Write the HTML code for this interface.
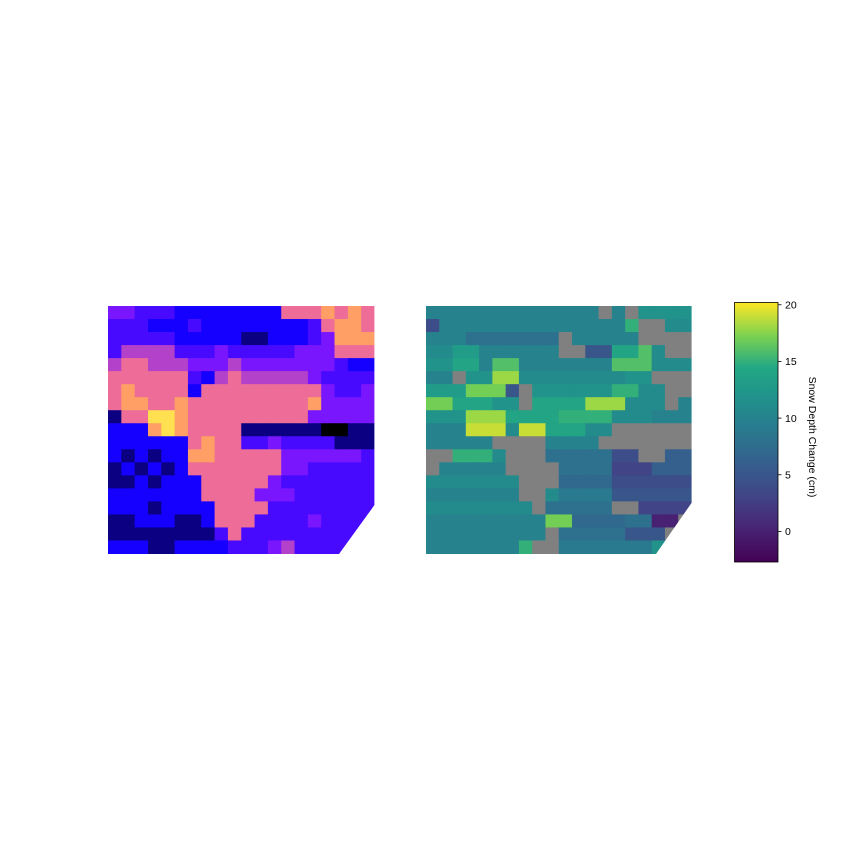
<!DOCTYPE html>
<html><head><meta charset="utf-8">
<style>
html,body{margin:0;padding:0;background:#fff;}
svg{display:block;font-family:"Liberation Sans","DejaVu Sans",sans-serif;}
</style></head>
<body>
<svg id="fig" width="864" height="864" viewBox="0 0 864 864">
  <g id="left"></g>
  <g id="right"></g>
  <rect x="374.4" y="300" width="4" height="260" fill="#fff"/>
  <rect x="691.6" y="300" width="4" height="260" fill="#fff"/>
  <polygon points="374.5,505 376,505 376,556 339,556 339,554" fill="#fff"/>
  <polygon points="691.5,503 693,503 693,556 656,556 656,554" fill="#fff"/>
  <defs>
    <linearGradient id="vir" x1="0" y1="1" x2="0" y2="0">
      <stop offset="0" stop-color="#440154"/><stop offset="0.13" stop-color="#482475"/>
      <stop offset="0.25" stop-color="#414487"/><stop offset="0.38" stop-color="#355f8d"/>
      <stop offset="0.5" stop-color="#2a788e"/><stop offset="0.63" stop-color="#21918c"/>
      <stop offset="0.75" stop-color="#22a884"/><stop offset="0.87" stop-color="#7ad151"/>
      <stop offset="1" stop-color="#fde725"/>
    </linearGradient>
  </defs>
  <g id="cbar">
    <rect x="734.5" y="302.5" width="43.5" height="259.5" fill="url(#vir)" stroke="#000" stroke-width="0.8"/>
  </g>
  <text x="0" y="0" transform="translate(809,437) rotate(90)" font-size="10.5" text-anchor="middle" fill="#000">Snow Depth Change (cm)</text>
</svg>
<script>
const leftValues = [
[4,4,3,3,3,2,2,2,2,2,2,2,2,6,6,6,7,6,7,6],
[3,3,3,2,2,2,3,2,2,2,2,2,2,2,2,3,6,7,7,6],
[3,3,3,3,3,2,2,2,2,2,1,1,2,2,2,3,4,7,7,7],
[3,5,5,5,5,3,3,3,4,3,3,3,3,3,4,4,4,6,6,6],
[5,6,6,5,5,5,4,4,4,5,4,4,4,4,4,4,4,3,2,2],
[6,6,6,6,6,6,3,2,5,6,5,5,5,5,5,4,3,3,3,3],
[6,7,6,6,6,6,2,6,6,6,6,6,6,6,6,6,4,3,3,4],
[6,7,7,6,6,7,6,6,6,6,6,6,6,6,6,7,4,4,4,4],
[1,6,6,8,8,7,6,6,6,6,6,6,6,6,6,4,4,4,4,4],
[2,2,2,7,8,7,6,6,6,6,1,1,1,1,1,1,0,0,1,1],
[2,2,2,2,2,2,6,7,6,6,3,3,4,3,3,3,3,1,1,1],
[2,1,2,1,2,2,7,7,6,6,6,6,6,4,4,4,4,4,4,3],
[1,2,1,2,1,2,6,6,6,6,6,6,6,4,4,3,3,3,3,3],
[1,1,2,1,2,2,2,6,6,6,6,6,4,3,3,3,3,3,3,3],
[2,2,2,2,2,2,2,6,6,6,6,4,4,4,3,3,3,3,3,3],
[2,2,2,1,2,2,2,2,6,6,6,6,3,3,3,3,3,3,3,3],
[1,1,2,2,2,1,1,2,6,6,6,3,3,3,3,4,3,3,3,3],
[1,1,1,1,1,1,1,1,3,6,3,3,3,3,3,3,3,3,3,3],
[2,2,2,1,1,2,2,2,2,3,3,3,4,5,3,3,3,3,3,3]
];
const N = null;
const rightValues = [
[10,10,10,10,10,10,10,10,10,10,10,10,10,N,10,N,12,12,12,12],
[4,10,10,10,10,10,10,10,10,10,10,10,10,10,10,15,N,N,11,11],
[10,10,10,8,8,8,8,8,8,8,N,10,10,10,10,10,N,N,N,N],
[11,11,13,13,10,10,10,10,10,10,N,N,5,5,14,14,16,11,N,N],
[12,12,14,14,10,16,16,10,10,10,10,10,10,10,16,16,16,11,11,11],
[10,10,N,12,12,18,18,11,11,11,11,11,11,11,11,12,12,N,N,N],
[13,13,13,17,17,17,5,N,12,12,12,12,12,12,15,15,11,11,N,N],
[17,17,14,14,14,12,12,N,14,14,14,14,18,18,18,11,11,11,N,10],
[12,12,12,18,18,18,14,14,14,14,15,15,15,15,11,11,11,10,10,10],
[10,10,10,19,19,19,11,19,19,14,14,14,11,11,N,N,N,N,N,N],
[10,10,10,10,10,N,N,N,N,10,10,10,10,N,N,N,N,N,N,N],
[N,N,15,15,15,11,N,N,N,8,8,8,8,8,4,4,N,N,6,6],
[N,10,10,10,10,10,N,N,N,N,8,8,8,8,3,3,3,6,6,6],
[11,11,11,11,11,11,11,N,N,N,7,7,7,7,4,4,4,4,4,4],
[10,10,10,10,10,10,10,N,N,11,9,9,9,9,5,5,5,5,5,5],
[11,11,11,11,11,11,11,11,N,8,8,8,8,8,N,N,3,3,3,3],
[10,10,10,10,10,10,10,10,10,17,17,7,7,7,7,8,8,0,0,N],
[10,10,10,10,10,10,10,10,10,N,8,8,8,8,8,5,5,5,N,5],
[10,10,10,10,10,10,10,15,N,N,9,9,9,9,9,9,9,12,12,12]
];
const cbarTicks = [0,5,10,15,20];

const NS='http://www.w3.org/2000/svg';
function lerpStops(stops,t){
  t=Math.max(0,Math.min(1,t));
  for(let i=1;i<stops.length;i++){
    if(t<=stops[i][0]){
      const a=stops[i-1],b=stops[i],f=(t-a[0])/(b[0]-a[0]||1);
      const c=[0,1,2].map(k=>Math.round(a[1][k]+(b[1][k]-a[1][k])*f));
      return 'rgb('+c.join(',')+')';
    }
  }
  const l=stops[stops.length-1][1];return 'rgb('+l.join(',')+')';
}
const gnu=[[0,[0,0,0]],[0.22,[20,0,255]],[0.44,[120,20,255]],[0.67,[240,110,150]],[0.78,[255,160,100]],[0.89,[255,225,80]],[1,[255,255,255]]];
const vir=[[0,[68,1,84]],[0.13,[72,36,117]],[0.25,[65,68,135]],[0.38,[53,95,141]],[0.5,[42,120,142]],[0.63,[33,145,140]],[0.75,[34,168,132]],[0.87,[122,209,81]],[1,[253,231,37]]];
const vmin=-2.7,vmax=20.2;

function drawGrid(g,vals,x0,y0,w,h,colorFn,name){
  const rows=vals.length,cols=vals[0].length,cw=w/cols,ch=h/rows;
  vals.forEach((row,r)=>row.forEach((v,c)=>{
    const rect=document.createElementNS(NS,'rect');
    rect.setAttribute('x',(x0+c*cw).toFixed(2));
    rect.setAttribute('y',(y0+r*ch).toFixed(2));
    rect.setAttribute('width',(cw+0.5).toFixed(2));
    rect.setAttribute('height',(ch+0.5).toFixed(2));
    rect.setAttribute('fill',colorFn(v));
    
    
    g.appendChild(rect);
  }));
}
drawGrid(document.getElementById('left'),leftValues,108,306,266.5,247.5,v=>lerpStops(gnu,v/9),'left-heatmap-cell');
drawGrid(document.getElementById('right'),rightValues,426,306,265.5,247.5,v=>v===null?'#808080':lerpStops(vir,(v-vmin)/(vmax-vmin)),'depth-heatmap-cell');

const cb=document.getElementById('cbar');
const cy=v=>562-(v-vmin)/(vmax-vmin)*259.5;
cbarTicks.forEach(t=>{
  const y=cy(t);
  const ln=document.createElementNS(NS,'line');
  ln.setAttribute('x1',778);ln.setAttribute('x2',781.5);
  ln.setAttribute('y1',y);ln.setAttribute('y2',y);
  ln.setAttribute('stroke','#000');ln.setAttribute('stroke-width','0.8');
  
  
  cb.appendChild(ln);
  const tx=document.createElementNS(NS,'text');
  tx.setAttribute('x',785);tx.setAttribute('y',y+3.8);
  tx.setAttribute('font-size','10.5');tx.setAttribute('fill','#000');
  tx.textContent=String(t);
  
  
  cb.appendChild(tx);
});
</script>
</body></html>
